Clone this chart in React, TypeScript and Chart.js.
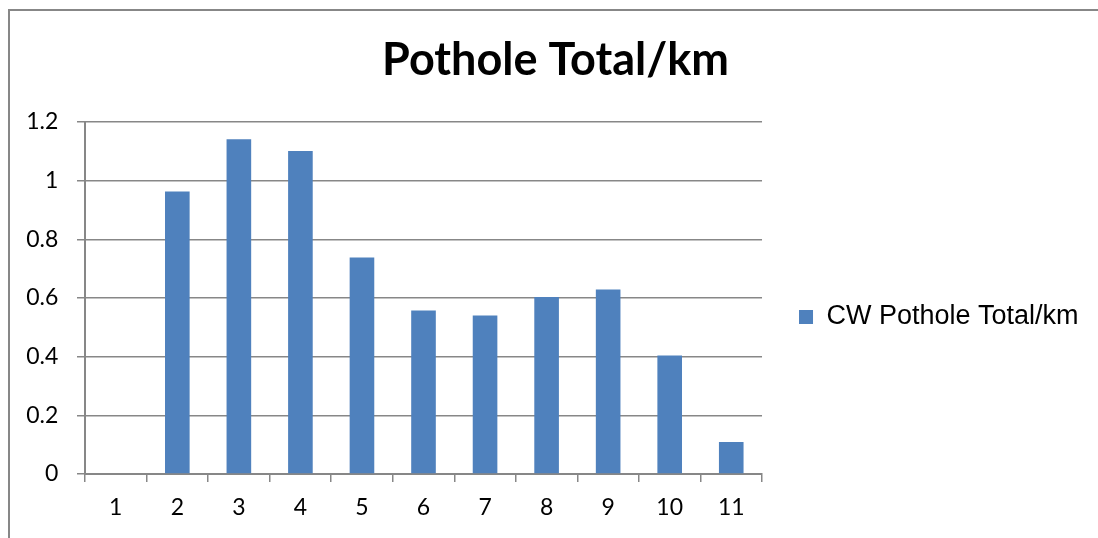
import React, { useEffect, useRef } from "react";
import { Chart, registerables } from "chart.js";

Chart.register(...registerables);

const chartTitle = "Pothole Total/km";
const seriesLabel = "CW Pothole Total/km";
const categories = ["1", "2", "3", "4", "5", "6", "7", "8", "9", "10", "11"];
const potholeTotalPerKm = [0, 0.963, 1.141, 1.101, 0.738, 0.557, 0.54, 0.603, 0.629, 0.404, 0.109];
const yTickValues = [0, 0.2, 0.4, 0.6, 0.8, 1, 1.2];
const yTickLabels = ["0", "0.2", "0.4", "0.6", "0.8", "1", "1.2"];

const CANVAS_W = 1088;
const CANVAS_H = 612;
const GRID = "#878787";

export default function App() {
  const ref = useRef<HTMLCanvasElement | null>(null);

  useEffect(() => {
    document.body.style.margin = "0";
    document.documentElement.style.overflow = "hidden";
    document.body.style.overflow = "hidden";
    if (!ref.current) return;
    const chart = new Chart(ref.current, {
      type: "bar",
      data: {
        labels: categories,
        datasets: [
          {
            label: seriesLabel,
            data: potholeTotalPerKm,
            backgroundColor: "#4F81BD",
            borderWidth: 0,
            barPercentage: 0.4,
            categoryPercentage: 1,
          },
        ],
      },
      options: {
        animation: false,
        responsive: false,
        maintainAspectRatio: false,
        layout: { padding: { left: 12.4, right: 9.4, top: 0, bottom: 0 } },
        plugins: {
          title: {
            display: true,
            text: chartTitle,
            color: "#000",
            font: { family: "Lato", size: 45, weight: "bold", lineHeight: 1.2 },
            padding: { top: 22, bottom: 35 },
          },
          legend: {
            position: "right",
            align: "center",
            maxWidth: 336,
            labels: {
              boxWidth: 14,
              boxHeight: 14,
              padding: 37,
              color: "#000",
              font: { family: "'Liberation Sans', Arial", size: 27 },
            },
          },
          tooltip: { enabled: false },
        },
        scales: {
          x: {
            grid: {
              display: true,
              drawOnChartArea: false,
              drawTicks: true,
              tickLength: 8,
              color: GRID,
              lineWidth: 1.5,
              offset: true,
            },
            border: { display: true, color: GRID, width: 2 },
            ticks: {
              color: "#000",
              font: { family: "Lato", size: 23 },
              padding: 12,
              maxRotation: 0,
              autoSkip: false,
            },
            afterFit: (s: any) => {
              s.height = CANVAS_H - 463;
            },
          },
          y: {
            min: 0,
            max: 1.2,
            afterBuildTicks: (s: any) => {
              s.ticks = yTickValues.map((v) => ({ value: v }));
            },
            grid: { color: GRID, lineWidth: 1.5, tickLength: 8 },
            border: { display: true, color: GRID, width: 2 },
            ticks: {
              color: "#000",
              font: { family: "Lato", size: 23 },
              padding: 18.7,
              callback: (_v: any, i: number) => yTickLabels[i],
            },
            afterFit: (s: any) => {
              s.width = 62.6;
            },
          },
        },
      },
    } as any);
    return () => chart.destroy();
  }, []);

  return (
    <div style={{ position: "relative", width: 1098, height: 538, overflow: "hidden", background: "#fff" }}>
      <style>{`html,body{margin:0;overflow:hidden;scrollbar-width:none}::-webkit-scrollbar{display:none;width:0;height:0}`}</style>
      <div
        style={{
          position: "absolute",
          left: 8,
          top: 9,
          width: 1090,
          height: 529,
          overflow: "hidden",
          borderTop: "2px solid #878787",
          borderLeft: "2px solid #878787",
          boxSizing: "border-box",
        }}
      >
        <canvas
          ref={ref}
          width={CANVAS_W}
          height={CANVAS_H}
          style={{ display: "block", width: CANVAS_W, height: CANVAS_H }}
        />
      </div>
    </div>
  );
}
